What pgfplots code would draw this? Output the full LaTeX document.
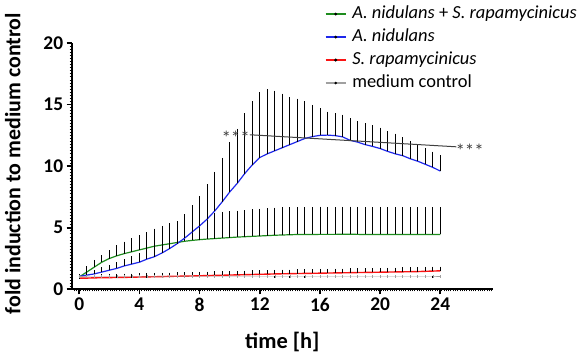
\documentclass[border=0pt]{standalone}
\usepackage{pgfplots}
\usepackage{pgfplotstable}
\usepackage{fontspec}
\setmainfont{Carlito}
\pgfplotsset{compat=1.18}
\definecolor{cgreen}{RGB}{30,140,30}
\definecolor{cblue}{RGB}{30,40,235}
\definecolor{cred}{RGB}{250,20,20}
\definecolor{cgray}{RGB}{160,160,160}
\pgfplotstableread{
t gy ge by be ry re my me
0 1.00 0.05 1.05 0.10 0.90 0.05 1.00 0.02
0.5 1.40 0.40 1.15 0.20 0.91 0.15 1.00 0.02
1 1.80 0.50 1.25 0.25 0.93 0.18 1.00 0.02
1.5 2.20 0.50 1.40 0.30 0.94 0.20 1.00 0.02
2 2.50 0.60 1.55 0.35 0.95 0.20 1.00 0.02
2.5 2.72 0.78 1.70 0.40 0.96 0.22 1.00 0.02
3 2.90 0.90 1.90 0.45 0.97 0.22 1.00 0.02
3.5 3.05 1.00 2.05 0.55 0.98 0.22 1.00 0.02
4 3.20 1.10 2.20 0.65 1.00 0.22 1.00 0.02
4.5 3.35 1.20 2.45 0.85 1.01 0.22 1.00 0.02
5 3.50 1.35 2.65 0.95 1.02 0.23 1.00 0.02
5.5 3.60 1.47 2.95 1.05 1.03 0.23 1.00 0.02
6 3.70 1.60 3.30 1.20 1.05 0.23 1.00 0.02
6.5 3.80 1.65 3.70 1.30 1.06 0.23 1.00 0.02
7 3.90 1.80 4.15 1.85 1.07 0.23 1.00 0.02
7.5 3.97 1.83 4.65 2.10 1.08 0.24 1.00 0.02
8 4.03 1.92 5.15 2.35 1.10 0.24 1.00 0.02
8.5 4.08 1.97 5.70 2.75 1.11 0.24 1.00 0.02
9 4.12 2.03 6.35 3.10 1.13 0.24 1.00 0.02
9.5 4.16 2.04 7.10 3.50 1.14 0.24 1.00 0.02
10 4.20 2.05 7.90 3.95 1.16 0.24 1.00 0.02
10.5 4.24 2.06 8.60 4.35 1.17 0.24 1.00 0.02
11 4.27 2.08 9.40 4.80 1.19 0.25 1.00 0.02
11.5 4.30 2.10 10.10 5.10 1.20 0.25 1.00 0.02
12 4.33 2.12 10.70 5.20 1.22 0.25 1.00 0.02
12.5 4.36 2.14 11.00 5.15 1.23 0.25 1.00 0.02
13 4.39 2.16 11.25 4.80 1.25 0.25 1.00 0.02
13.5 4.41 2.19 11.50 4.30 1.26 0.25 1.00 0.02
14 4.43 2.17 11.75 3.80 1.27 0.25 1.00 0.02
14.5 4.45 2.15 12.00 3.40 1.28 0.25 1.00 0.02
15 4.45 2.15 12.25 2.95 1.29 0.25 1.00 0.02
15.5 4.45 2.15 12.40 2.50 1.30 0.25 1.00 0.02
16 4.46 2.17 12.50 2.10 1.31 0.26 1.00 0.02
16.5 4.46 2.16 12.52 1.83 1.32 0.26 1.00 0.02
17 4.46 2.14 12.48 1.72 1.33 0.26 1.00 0.02
17.5 4.47 2.15 12.38 1.72 1.34 0.26 1.00 0.02
18 4.47 2.17 12.10 1.70 1.35 0.26 1.00 0.02
18.5 4.46 2.15 11.95 1.60 1.36 0.26 1.00 0.02
19 4.45 2.13 11.75 1.65 1.37 0.26 1.00 0.02
19.5 4.45 2.15 11.60 1.65 1.38 0.26 1.00 0.02
20 4.45 2.16 11.43 1.62 1.39 0.26 1.00 0.02
20.5 4.45 2.14 11.20 1.55 1.40 0.26 1.00 0.02
21 4.45 2.13 11.00 1.55 1.41 0.27 1.00 0.02
21.5 4.45 2.13 10.85 1.40 1.42 0.27 1.00 0.02
22 4.45 2.12 10.60 1.37 1.43 0.27 1.00 0.02
22.5 4.45 2.13 10.40 1.30 1.44 0.27 1.00 0.02
23 4.45 2.14 10.15 1.25 1.46 0.27 1.00 0.02
23.5 4.45 2.15 9.90 1.20 1.48 0.27 1.00 0.02
24 4.45 2.13 9.60 1.20 1.50 0.27 1.00 0.02
}\datatable
\begin{document}
\begin{tikzpicture}
\begin{axis}[
  scale only axis,
  width=421.3bp, height=246.3bp,
  xmin=-0.5, xmax=27.5, ymin=0, ymax=20,
  axis x line*=bottom, axis y line*=left,
  axis line style={-, line width=1.8bp},
  xtick={0,4,...,24}, ytick={0,5,...,20},
  minor xtick={-0.35,-0.2,...,27.5},
  minor ytick={0.25,0.5,...,20},
  tick align=outside,
  major tick length=5bp, minor tick length=2bp,
  every major tick/.append style={line width=1.8bp, black},
  every minor tick/.append style={line width=0.8bp, black},
  /pgf/number format/assume math mode=true,
  tick label style={font=\fontsize{19.5}{22}\selectfont\bfseries},
  xlabel={time [h]},
  ylabel={fold induction to medium control},
  xlabel style={at={(axis description cs:0.5,-0.215)}, anchor=center, font=\fontsize{22.5}{25}\selectfont\bfseries},
  ylabel style={at={(axis description cs:-0.14,0.51)}, anchor=center, rotate=0, font=\fontsize{22}{25}\selectfont\bfseries},
  clip=false,
  legend cell align=left,
  legend style={draw=none, fill=none, at={(0.601,1.165)}, anchor=north west,
    font=\fontsize{18.5}{20}\selectfont, inner sep=0pt, row sep=0pt, column sep=3bp,
    nodes={text height=12.5bp, text depth=4.5bp, inner sep=3bp}},
  legend image code/.code={\draw[#1, line width=1.2bp] (0bp,0bp) -- (20bp,0bp); \fill[black] (10bp,0bp) circle (0.7bp);},
  error bars/y dir=plus, error bars/y explicit,
  error bars/error bar style={black, line width=0.9bp},
  error bars/error mark options={black, mark size=1bp, line width=0.9bp},
]
\addplot[cgreen, line width=1.2bp] table[x=t, y=gy, y error plus=ge] {\datatable};
\addlegendentry{\textit{A. nidulans} + \textit{S. rapamycinicus}}
\addplot[cblue, line width=1.2bp] table[x=t, y=by, y error plus=be] {\datatable};
\addlegendentry{\textit{A. nidulans}}
\addplot[cred, line width=1.4bp] table[x=t, y=ry, y error plus=re] {\datatable};
\addlegendentry{\textit{S. rapamycinicus}}
\addplot[cgray, line width=1bp, mark=|, mark size=1.5bp, mark options={cgray, line width=0.6bp}] table[x=t, y=my, y error plus=me] {\datatable};
\addlegendentry{medium control}
\addplot[black!75, line width=1bp, forget plot, error bars/y dir=none] coordinates {(11.34,12.55) (25.07,11.57)};
\node[font=\fontsize{19}{20}\selectfont, text=black!75, yshift=-3.5bp] at (axis cs:10.4,12.55) {***};
\node[font=\fontsize{19}{20}\selectfont, text=black!75, yshift=-3.5bp] at (axis cs:25.95,11.55) {***};
\end{axis}
\pgfresetboundingbox
\path (-71.7bp,-70.7bp) rectangle (505.3bp,289.3bp);
\end{tikzpicture}
\end{document}
